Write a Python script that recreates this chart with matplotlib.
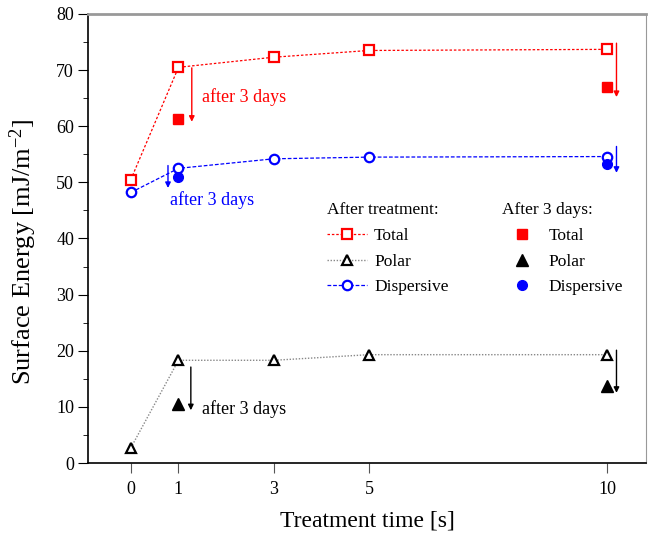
import matplotlib
matplotlib.use("Agg")
import matplotlib.pyplot as plt
from matplotlib.lines import Line2D

plt.rcParams['font.family'] = ['Liberation Serif', 'DejaVu Serif']
plt.rcParams['mathtext.fontset'] = 'custom'
plt.rcParams['mathtext.rm'] = 'Liberation Serif'
plt.rcParams['mathtext.it'] = 'Liberation Serif:italic'

# data
t = [0, 1, 3, 5, 10]
total = [50.5, 70.5, 72.3, 73.5, 73.7]
polar = [2.7, 18.3, 18.3, 19.3, 19.3]
disp = [48.2, 52.5, 54.2, 54.5, 54.6]

t3 = [1, 10]
total3 = [61.3, 67.0]
polar3 = [10.5, 13.8]
disp3 = [51.0, 53.3]

fig = plt.figure(figsize=(6.48, 5.38), dpi=100)
ax = fig.add_axes([88 / 648, 1 - 463 / 538, (646 - 88) / 648, (463 - 14) / 538])

ax.plot(t, total, color='red', ls=(0, (2, 1.5)), lw=0.9, marker='s', ms=6.8,
        mfc='white', mec='red', mew=1.6)
ax.plot(t, polar, color='#888888', ls=(0, (1, 1.2)), lw=1.0, marker='^', ms=7.5,
        mfc='white', mec='black', mew=1.6)
ax.plot(t, disp, color='blue', ls=(0, (3, 1.5)), lw=0.9, marker='o', ms=6.8,
        mfc='white', mec='blue', mew=1.6)

ax.plot(t3, total3, ls='none', marker='s', ms=7, color='red')
ax.plot(t3, polar3, ls='none', marker='^', ms=8, color='black')
ax.plot(t3, disp3, ls='none', marker='o', ms=7, color='blue')

# arrows from fresh value to aged value
arrows = [(1.28, 70.4, 60.8, 'red'), (10.2, 74.8, 65.2, 'red'),
          (0.78, 53.0, 49.0, 'blue'), (10.2, 56.4, 51.7, 'blue'),
          (1.26, 17.1, 9.4, 'black'), (10.2, 20.1, 12.5, 'black')]
for xa, y0, y1, c in arrows:
    ax.annotate('', xy=(xa, y1), xytext=(xa, y0),
                arrowprops=dict(arrowstyle='-|>', color=c, lw=1.0,
                                mutation_scale=8, shrinkA=0, shrinkB=0))

ax.text(1.5, 65.2, 'after 3 days', color='red', fontsize=13, va='center')
ax.text(0.82, 46.8, 'after 3 days', color='blue', fontsize=13, va='center')
ax.text(1.5, 9.6, 'after 3 days', color='black', fontsize=13, va='center')

ax.set_xlim(-0.9, 10.82)
ax.set_ylim(0, 80)
ax.set_xticks(t)
ax.set_yticks(range(0, 81, 10))
ax.set_yticks(range(5, 80, 10), minor=True)
ax.tick_params(axis='both', direction='out', labelsize=13)
ax.tick_params(axis='y', which='major', length=7, pad=3)
ax.tick_params(axis='y', which='minor', length=3.5)
ax.tick_params(axis='x', length=7, pad=6, color='#555555')
for s in ['top', 'right']:
    ax.spines[s].set_color('#999999')
ax.spines['top'].set_linewidth(2)
ax.spines['right'].set_linewidth(0.8)
ax.spines['left'].set_linewidth(1.2)
ax.spines['bottom'].set_linewidth(1.2)

ax.set_xlabel('Treatment time [s]', fontsize=17)
ax.xaxis.set_label_coords(0.5, -0.105)
ax.set_ylabel('Surface Energy [mJ/m$^{-2}$]', fontsize=19)
ax.yaxis.set_label_coords(-0.088, 0.47)

h1 = [Line2D([], [], color='red', ls=(0, (2, 1.5)), lw=0.9, marker='s', ms=6.8,
             mfc='white', mec='red', mew=1.6),
      Line2D([], [], color='#888888', ls=(0, (1, 1.2)), lw=1.0, marker='^', ms=7.5,
             mfc='white', mec='black', mew=1.6),
      Line2D([], [], color='blue', ls=(0, (3, 1.5)), lw=0.9, marker='o', ms=6.8,
             mfc='white', mec='blue', mew=1.6)]
h2 = [Line2D([], [], ls='none', marker='s', ms=7, color='red'),
      Line2D([], [], ls='none', marker='^', ms=8, color='black'),
      Line2D([], [], ls='none', marker='o', ms=7, color='blue')]
labels = ['Total', 'Polar', 'Dispersive']

leg_kw = dict(alignment='left', loc='upper left', frameon=False,
              fontsize=12.5, title_fontsize=12.5, handlelength=2.3,
              handletextpad=0.4, labelspacing=0.55, borderpad=0)
leg1 = ax.legend(h1, labels, title='After treatment:',
                 bbox_to_anchor=(0.413, 0.6), **leg_kw)
ax.add_artist(leg1)
ax.legend(h2, labels, title='After 3 days:',
          bbox_to_anchor=(0.726, 0.6), **leg_kw)

fig.savefig('out.png', dpi=100)
